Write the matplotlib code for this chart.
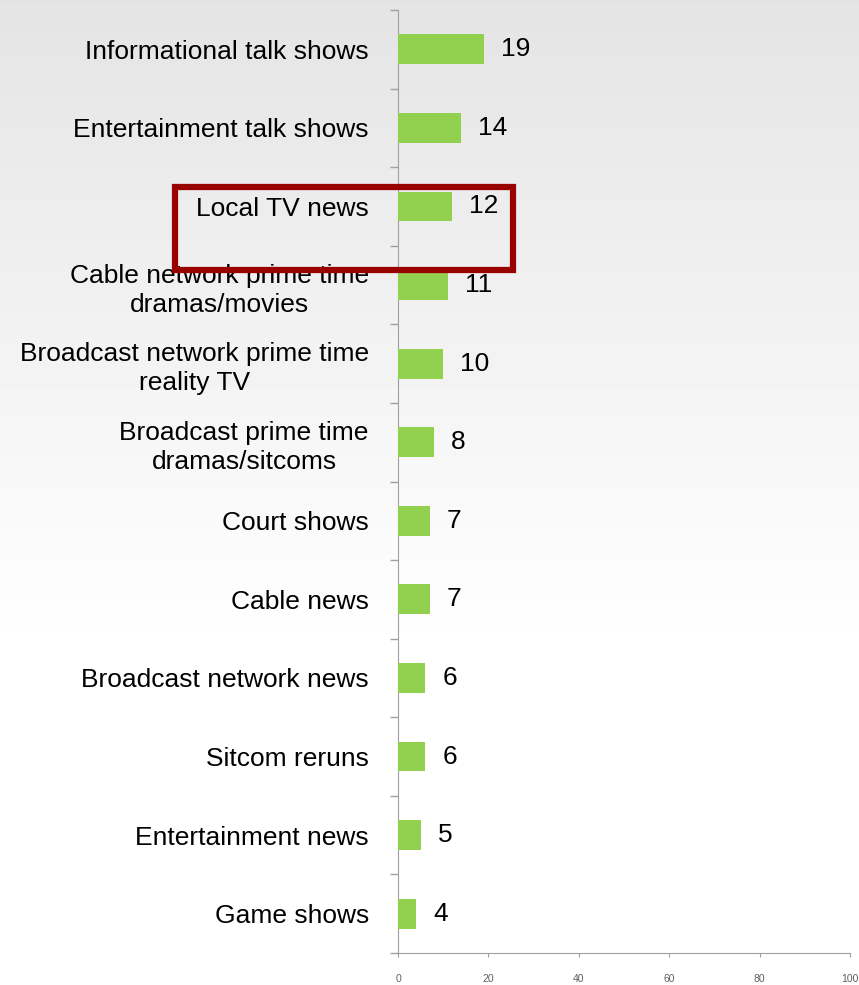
import matplotlib.pyplot as plt
import numpy as np
from matplotlib.patches import Rectangle

plt.rcParams['font.family'] = ['Liberation Sans', 'DejaVu Sans']

# data, top to bottom as in the picture
categories = ['Informational talk shows', 'Entertainment talk shows', 'Local TV news',
              'Cable network prime time\ndramas/movies',
              'Broadcast network prime time\nreality TV',
              'Broadcast prime time\ndramas/sitcoms',
              'Court shows', 'Cable news', 'Broadcast network news',
              'Sitcom reruns', 'Entertainment news', 'Game shows']
values = [19, 14, 12, 11, 10, 8, 7, 7, 6, 6, 5, 4]
xticks = [0, 20, 40, 60, 80, 100]

fig = plt.figure(figsize=(8.59, 9.85), dpi=100)

# grey-to-white background gradient
bg = fig.add_axes([0, 0, 1, 1], zorder=-10)
rows = np.linspace(0, 1, 300)
shade = np.clip(228 + 27 * rows / 0.66, 228, 255) / 255.0
grad = np.repeat(shade[:, None], 2, axis=1)
bg.imshow(grad, cmap='gray', vmin=0, vmax=1, aspect='auto', extent=[0, 1, 0, 1], origin='upper')
bg.axis('off')

ax = fig.add_axes([398 / 859, 1 - 953 / 985, 452 / 859, 943 / 985])
ax.patch.set_alpha(0)

y = np.arange(len(categories))
ax.barh(y, values, height=0.38, color='#92D050', zorder=3)
for yi, v in zip(y, values):
    ax.text(v + 3.8, yi, str(v), va='center', ha='left', fontsize=19, color='black')

ax.set_ylim(len(categories) - 0.5, -0.5)
ax.set_xlim(0, 100)
ax.set_yticks(y)
ax.set_yticklabels(categories, fontsize=19, ha='right', multialignment='center',
                   linespacing=1.28)
ax.tick_params(axis='y', length=0, pad=21)
# tick marks between categories
ax.set_yticks(np.arange(len(categories) + 1) - 0.5, minor=True)
ax.tick_params(axis='y', which='minor', length=6, color='#a0a0a0', width=1)

ax.set_xticks(xticks)
ax.set_xticklabels([str(t) for t in xticks], fontsize=7.5, color='#606060')
ax.tick_params(axis='x', length=3, color='#a0a0a0', pad=12)

for s in ['top', 'right']:
    ax.spines[s].set_visible(False)
ax.spines['left'].set_color('#a0a0a0')
ax.spines['bottom'].set_color('#a0a0a0')

# red highlight box around Local TV news
W, H = 859, 985
box = Rectangle((175 / W, 1 - 270 / H), 338 / W, 83 / H, transform=fig.transFigure,
                fill=False, edgecolor='#990000', linewidth=4.5, zorder=20)
fig.patches.append(box)

fig.savefig('out.png', dpi=100)
